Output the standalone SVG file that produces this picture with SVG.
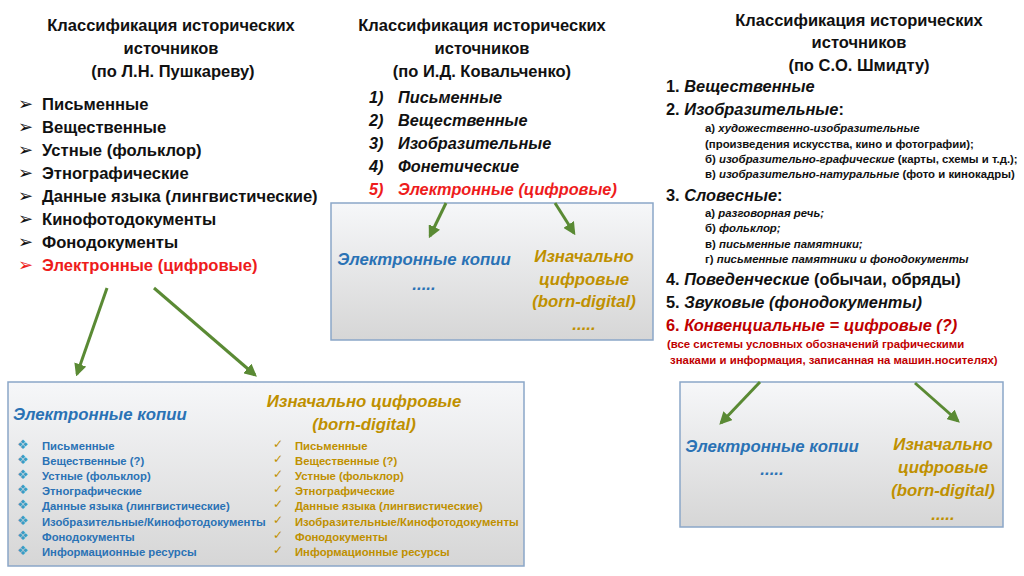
<svg xmlns="http://www.w3.org/2000/svg" width="1024" height="576" viewBox="0 0 1024 576">
<defs>
<linearGradient id="boxg" x1="0" y1="0" x2="0" y2="1">
<stop offset="0" stop-color="#f6f7f9"/>
<stop offset="1" stop-color="#d6d6d6"/>
</linearGradient>
<marker id="ah" viewBox="0 0 10 10" refX="8" refY="5" markerWidth="4.2" markerHeight="4.2" orient="auto" markerUnits="strokeWidth">
<path d="M0,0 L10,5 L0,10 z" fill="#5a8a34"/>
</marker>
<style>
text{font-family:"Liberation Sans",Arial,sans-serif;}
.t{font-size:16.5px;font-weight:bold;fill:#111;text-anchor:middle;}
.li{font-size:16.6px;font-weight:bold;fill:#111;}
.lr{font-size:16.4px;font-weight:bold;fill:#111;}
.lii{font-size:16.3px;font-weight:bold;font-style:italic;fill:#111;}
.sub{font-size:11.4px;font-weight:bold;fill:#111;}
.red{fill:#ee1c1c;}
.dred{fill:#c00000;}
.blue{fill:#2a72b5;}
.gold{fill:#bf9000;}
.bh{font-size:16.8px;font-weight:bold;font-style:italic;}
.bi{font-size:11.3px;font-weight:bold;}
.bul{font-family:"DejaVu Sans",sans-serif;}
.box{fill:url(#boxg);stroke:#8aa6c8;stroke-width:1.5;}
.arr{stroke:#5a8a34;stroke-width:3;fill:none;marker-end:url(#ah);}
</style>
</defs>
<rect width="1024" height="576" fill="#ffffff"/>

<g id="pushkarev">
<text class="t" x="171" y="31">Классификация исторических</text>
<text class="t" x="171" y="54">источников</text>
<text class="t" x="173" y="77">(по Л.Н. Пушкареву)</text>
<g class="li">
<text class="bul" x="18" y="110" font-size="18">➢</text><text x="42" y="110">Письменные</text>
<text class="bul" x="18" y="133" font-size="18">➢</text><text x="42" y="133">Вещественные</text>
<text class="bul" x="18" y="156" font-size="18">➢</text><text x="42" y="156">Устные (фольклор)</text>
<text class="bul" x="18" y="179" font-size="18">➢</text><text x="42" y="179">Этнографические</text>
<text class="bul" x="18" y="202" font-size="18">➢</text><text x="42" y="202">Данные языка (лингвистические)</text>
<text class="bul" x="18" y="225" font-size="18">➢</text><text x="42" y="225">Кинофотодокументы</text>
<text class="bul" x="18" y="248" font-size="18">➢</text><text x="42" y="248">Фонодокументы</text>
<text class="bul red" x="18" y="271" font-size="18">➢</text><text class="red" x="42" y="271">Электронные (цифровые)</text>
</g>
</g>

<g id="kovalchenko">
<text class="t" x="482" y="31">Классификация исторических</text>
<text class="t" x="482" y="54">источников</text>
<text class="t" x="482" y="77">(по И.Д. Ковальченко)</text>
<g class="lii">
<text x="369" y="103">1)</text><text x="398" y="103">Письменные</text>
<text x="369" y="126">2)</text><text x="398" y="126">Вещественные</text>
<text x="369" y="149">3)</text><text x="398" y="149">Изобразительные</text>
<text x="369" y="172">4)</text><text x="398" y="172">Фонетические</text>
<text class="red" x="369" y="195">5)</text><text class="red" x="398" y="195">Электронные (цифровые)</text>
</g>
</g>

<g id="shmidt">
<text class="t" x="859" y="26">Классификация исторических</text>
<text class="t" x="859" y="48">источников</text>
<text class="t" x="859" y="71">(по С.О. Шмидту)</text>
<text class="lr" x="666" y="92">1. <tspan font-style="italic">Вещественные</tspan></text>
<text class="lr" x="666" y="115">2. <tspan font-style="italic">Изобразительные</tspan>:</text>
<text class="sub" x="705" y="132">а) <tspan font-style="italic">художественно-изобразительные</tspan></text>
<text class="sub" x="705" y="148">(произведения искусства, кино и фотографии);</text>
<text class="sub" x="705" y="163">б) <tspan font-style="italic">изобразительно-графические</tspan> (карты, схемы и т.д.);</text>
<text class="sub" x="705" y="178">в) <tspan font-style="italic">изобразительно-натуральные</tspan> (фото и кинокадры)</text>
<text class="lr" x="666" y="201">3. <tspan font-style="italic">Словесные</tspan>:</text>
<text class="sub" x="705" y="217">а) <tspan font-style="italic">разговорная речь;</tspan></text>
<text class="sub" x="705" y="232">б) <tspan font-style="italic">фольклор;</tspan></text>
<text class="sub" x="705" y="248">в) <tspan font-style="italic">письменные памятники;</tspan></text>
<text class="sub" x="705" y="263">г) <tspan font-style="italic">письменные памятники и фонодокументы</tspan></text>
<text class="lr" x="666" y="285" fill="#595959">4. <tspan font-style="italic">Поведенческие</tspan> (обычаи, <tspan fill="#111">обряды)</tspan></text>
<text class="lr" x="666" y="308">5. <tspan font-style="italic">Звуковые (фонодокументы)</tspan></text>
<text class="lr dred" x="666" y="331">6. <tspan font-style="italic">Конвенциальные = цифровые (?)</tspan></text>
<text class="sub dred" x="667" y="348">(все системы условных обозначений графическими</text>
<text class="sub dred" x="670" y="364">знаками и информация, записанная на машин.носителях)</text>
</g>

<g id="box-bottom-left">
<rect class="box" x="8" y="382" width="516" height="184"/>
<text class="bh blue" x="13" y="420">Электронные копии</text>
<g class="bi blue">
<text class="bul" x="17" y="449" font-size="13" fill="#3a9cc4">❖</text><text x="42" y="450">Письменные</text>
<text class="bul" x="17" y="464" font-size="13" fill="#3a9cc4">❖</text><text x="42" y="465">Вещественные (?)</text>
<text class="bul" x="17" y="479" font-size="13" fill="#3a9cc4">❖</text><text x="42" y="480">Устные (фольклор)</text>
<text class="bul" x="17" y="494" font-size="13" fill="#3a9cc4">❖</text><text x="42" y="495">Этнографические</text>
<text class="bul" x="17" y="509" font-size="13" fill="#3a9cc4">❖</text><text x="42" y="510">Данные языка (лингвистические)</text>
<text class="bul" x="17" y="525" font-size="13" fill="#3a9cc4">❖</text><text x="42" y="526">Изобразительные/Кинофотодокументы</text>
<text class="bul" x="17" y="540" font-size="13" fill="#3a9cc4">❖</text><text x="42" y="541">Фонодокументы</text>
<text class="bul" x="17" y="555" font-size="13" fill="#3a9cc4">❖</text><text x="42" y="556">Информационные ресурсы</text>
</g>
<text class="bh gold" x="364" y="407" text-anchor="middle">Изначально цифровые</text>
<text class="bh gold" x="364" y="430" text-anchor="middle">(born-digital)</text>
<g class="bi gold">
<text class="bul" x="273" y="448" font-size="12">✓</text><text x="295" y="450">Письменные</text>
<text class="bul" x="273" y="463" font-size="12">✓</text><text x="295" y="465">Вещественные (?)</text>
<text class="bul" x="273" y="478" font-size="12">✓</text><text x="295" y="480">Устные (фольклор)</text>
<text class="bul" x="273" y="493" font-size="12">✓</text><text x="295" y="495">Этнографические</text>
<text class="bul" x="273" y="508" font-size="12">✓</text><text x="295" y="510">Данные языка (лингвистические)</text>
<text class="bul" x="273" y="524" font-size="12">✓</text><text x="295" y="526">Изобразительные/Кинофотодокументы</text>
<text class="bul" x="273" y="539" font-size="12">✓</text><text x="295" y="541">Фонодокументы</text>
<text class="bul" x="273" y="554" font-size="12">✓</text><text x="295" y="556">Информационные ресурсы</text>
</g>
</g>

<g id="box-middle">
<rect class="box" x="331" y="203" width="322" height="137"/>
<text class="bh blue" x="424" y="265" text-anchor="middle">Электронные копии</text>
<text class="bh blue" x="424" y="290" text-anchor="middle">.....</text>
<text class="bh gold" x="584" y="262" text-anchor="middle">Изначально</text>
<text class="bh gold" x="584" y="285" text-anchor="middle">цифровые</text>
<text class="bh gold" x="584" y="307" text-anchor="middle">(born-digital)</text>
<text class="bh gold" x="584" y="330" text-anchor="middle">.....</text>
</g>

<g id="box-right">
<rect class="box" x="680" y="382" width="323" height="145"/>
<text class="bh blue" x="772" y="452" text-anchor="middle">Электронные копии</text>
<text class="bh blue" x="772" y="475" text-anchor="middle">.....</text>
<text class="bh gold" x="943" y="450" text-anchor="middle">Изначально</text>
<text class="bh gold" x="943" y="473" text-anchor="middle">цифровые</text>
<text class="bh gold" x="943" y="496" text-anchor="middle">(born-digital)</text>
<text class="bh gold" x="943" y="520" text-anchor="middle">.....</text>
</g>

<g id="connectors">
<line class="arr" x1="107" y1="288" x2="77" y2="374"/>
<line class="arr" x1="154" y1="288" x2="255" y2="375"/>
<line class="arr" x1="446" y1="203" x2="430" y2="236"/>
<line class="arr" x1="555" y1="203" x2="574" y2="233"/>
<line class="arr" x1="760" y1="382" x2="721" y2="423"/>
<line class="arr" x1="915" y1="383" x2="958" y2="421"/>
</g>
</svg>
